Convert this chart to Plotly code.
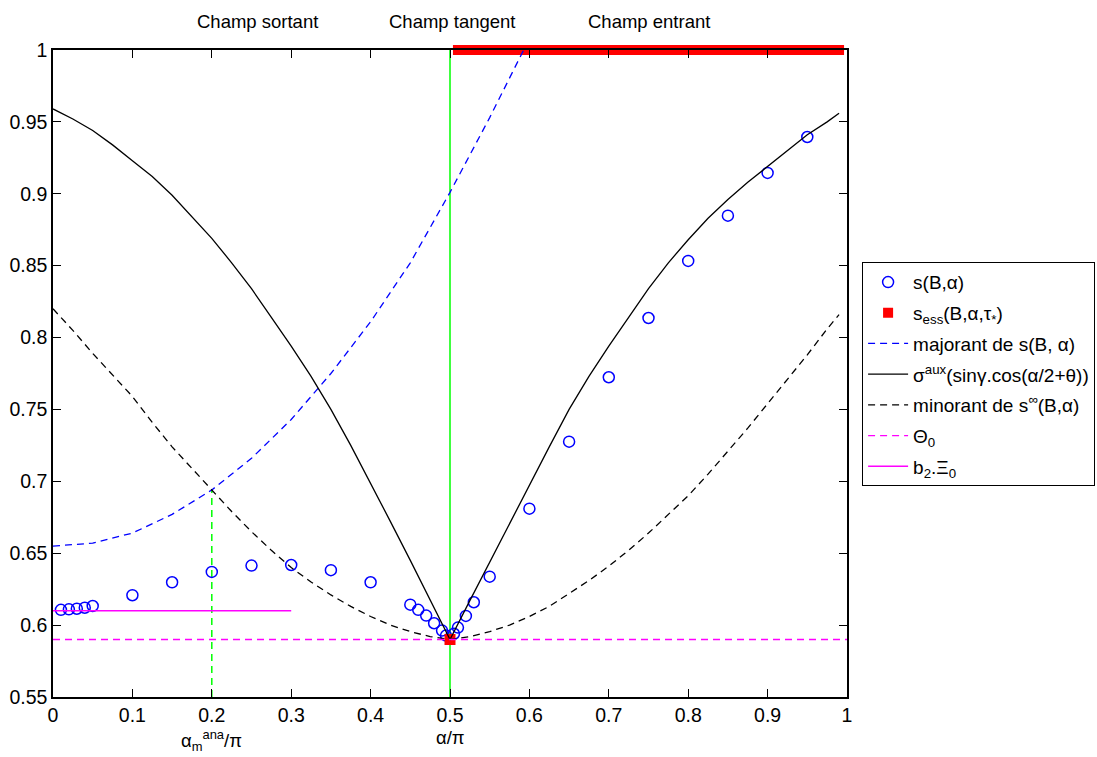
import plotly.graph_objects as go

# ---------------- data ----------------
s_x = [0.01, 0.02, 0.03, 0.04, 0.05, 0.10, 0.15, 0.20, 0.25, 0.30, 0.35, 0.40,
       0.45, 0.46, 0.47, 0.48, 0.49, 0.495, 0.505, 0.51, 0.52, 0.53, 0.55,
       0.60, 0.65, 0.70, 0.75, 0.80, 0.85, 0.90, 0.95]
s_y = [0.6106, 0.6110, 0.6114, 0.6121, 0.6133, 0.6208, 0.6298, 0.6370, 0.6414,
       0.6418, 0.6382, 0.6298, 0.6142, 0.6106, 0.6066, 0.6013, 0.5962, 0.5927,
       0.5940, 0.5983, 0.6064, 0.6159, 0.6337, 0.6810, 0.7276, 0.7724, 0.8136,
       0.8533, 0.8848, 0.9145, 0.9395]

ess_x = [0.50] + [round(0.51 + 0.01 * i, 2) for i in range(49)]
ess_y = [0.59] + [1.0] * 49

curve_x = [0.000, 0.025, 0.050, 0.075, 0.100, 0.125, 0.150, 0.175, 0.200,
           0.225, 0.250, 0.275, 0.300, 0.325, 0.350, 0.375, 0.400, 0.425,
           0.450, 0.475, 0.500, 0.525, 0.550, 0.575, 0.600, 0.625, 0.650,
           0.675, 0.700, 0.725, 0.750, 0.775, 0.800, 0.825, 0.850, 0.875,
           0.900, 0.925, 0.950, 0.975, 0.990]
sigma_aux = [0.959, 0.952, 0.944, 0.934, 0.923, 0.912, 0.899, 0.884, 0.869,
             0.852, 0.834, 0.814, 0.794, 0.773, 0.750, 0.725, 0.699, 0.672,
             0.645, 0.617, 0.590, 0.617, 0.644, 0.670, 0.697, 0.724, 0.750,
             0.773, 0.794, 0.814, 0.834, 0.852, 0.868, 0.883, 0.896, 0.908,
             0.919, 0.930, 0.941, 0.950, 0.956]
minorant = [0.820, 0.805, 0.789, 0.774, 0.759, 0.741, 0.724, 0.709, 0.694,
            0.679, 0.665, 0.652, 0.640, 0.630, 0.621, 0.613, 0.606, 0.600,
            0.5955, 0.592, 0.590, 0.592, 0.5955, 0.600, 0.606, 0.613, 0.622,
            0.631, 0.641, 0.652, 0.664, 0.677, 0.690, 0.705, 0.721, 0.737,
            0.754, 0.771, 0.788, 0.806, 0.816]

maj_x = [0.00, 0.05, 0.10, 0.15, 0.20, 0.25, 0.30, 0.35, 0.40, 0.45, 0.50,
         0.55, 0.60]
maj_y = [0.655, 0.657, 0.664, 0.677, 0.694, 0.716, 0.743, 0.775, 0.811, 0.852,
         0.901, 0.953, 1.008]

theta0_x = [0.0, 1.0]
theta0_y = [0.59, 0.59]
xi0_x = [0.0, 0.3]
xi0_y = [0.61, 0.61]

alpha_ana = 0.2
alpha_ana_y = 0.694
alpha_tan = 0.5

x_ticks = [0, 0.1, 0.2, 0.3, 0.4, 0.5, 0.6, 0.7, 0.8, 0.9, 1]
y_ticks = [0.55, 0.6, 0.65, 0.7, 0.75, 0.8, 0.85, 0.9, 0.95, 1]

# ---------------- figure ----------------
FONT = "Liberation Sans, Arial, sans-serif"
DASH = "7px,5px"

fig = go.Figure()

# green reference lines (not in legend)
fig.add_trace(go.Scatter(x=[alpha_tan, alpha_tan], y=[0.55, 1.0], mode="lines",
                         line=dict(color="#00ff00", width=1.5), showlegend=False))
fig.add_trace(go.Scatter(x=[alpha_ana, alpha_ana], y=[0.55, alpha_ana_y], mode="lines",
                         line=dict(color="#00ff00", width=1.5, dash=DASH), showlegend=False))

fig.add_trace(go.Scatter(x=s_x, y=s_y, mode="markers", name="s(B,α)", legendgroup="g1",
                         marker=dict(symbol="circle-open", size=11, color="#0000ff",
                                     line=dict(width=1.5, color="#0000ff"))))
fig.add_trace(go.Scatter(x=ess_x, y=ess_y, mode="markers", legendgroup="g2",
                         name="s<sub>ess</sub>(B,α,τ<sub>*</sub>)", cliponaxis=False,
                         marker=dict(symbol="square", size=[11] + [10] * 49, color="#ff0000",
                                     opacity=1, line=dict(width=0))))
fig.add_trace(go.Scatter(x=maj_x, y=maj_y, mode="lines", name="majorant de s(B, α)",
                         legendgroup="g3",
                         line=dict(color="#0000ff", width=1.3, dash=DASH)))
fig.add_trace(go.Scatter(x=curve_x, y=sigma_aux, mode="lines", legendgroup="g4",
                         name="σ<sup>aux</sup>(sinγ.cos(α/2+θ))",
                         line=dict(color="black", width=1.3)))
fig.add_trace(go.Scatter(x=curve_x, y=minorant, mode="lines", legendgroup="g5",
                         name="minorant de s<sup>∞</sup>(B,α)",
                         line=dict(color="black", width=1.3, dash=DASH)))
fig.add_trace(go.Scatter(x=theta0_x, y=theta0_y, mode="lines", name="Θ<sub>0</sub>",
                         legendgroup="g6",
                         line=dict(color="#ff00ff", width=1.3, dash=DASH)))
fig.add_trace(go.Scatter(x=xi0_x, y=xi0_y, mode="lines", name="b<sub>2</sub>.Ξ<sub>0</sub>",
                         legendgroup="g7",
                         line=dict(color="#ff00ff", width=1.5)))

axis_common = dict(showgrid=False, zeroline=False, showline=True, linecolor="black",
                   linewidth=1.5, mirror="ticks", ticks="inside", ticklen=8,
                   tickcolor="black", tickwidth=1, automargin=False,
                   tickfont=dict(family=FONT, size=19.5, color="black"))

fig.update_xaxes(range=[0, 1], tickvals=x_ticks,
                 ticktext=[f"{v:g}" for v in x_ticks], **axis_common)
fig.update_yaxes(range=[0.55, 1], tickvals=y_ticks,
                 ticktext=[f"{v:g}" for v in y_ticks], **axis_common)

annots = [
    dict(x=0.258, y=1.0433, text="Champ sortant"),
    dict(x=0.503, y=1.0433, text="Champ tangent"),
    dict(x=0.75, y=1.0433, text="Champ entrant"),
    dict(x=0.5, y=-0.0625, text="α/π"),
    dict(x=0.2, y=-0.0665, text="α<sub>m</sub><sup>ana</sup>/π"),
]
for a in annots:
    fig.add_annotation(x=a["x"], y=a["y"], text=a["text"], xref="x", yref="paper",
                       showarrow=False, xanchor="center", yanchor="middle",
                       font=dict(family=FONT, size=18.5, color="black"))

fig.update_layout(
    width=1097, height=757,
    margin=dict(l=53, r=250, t=50, b=60, autoexpand=False),
    paper_bgcolor="white", plot_bgcolor="white",
    font=dict(family=FONT, size=19, color="black"),
    legend=dict(x=1.019, y=0.672, xanchor="left", yanchor="top",
                bordercolor="black", borderwidth=1, bgcolor="white",
                font=dict(family=FONT, size=19, color="black"),
                tracegroupgap=3, itemwidth=40),
)

fig.write_html("out.html", config={"displayModeBar": False},
               post_script="document.body.style.margin='0';")
